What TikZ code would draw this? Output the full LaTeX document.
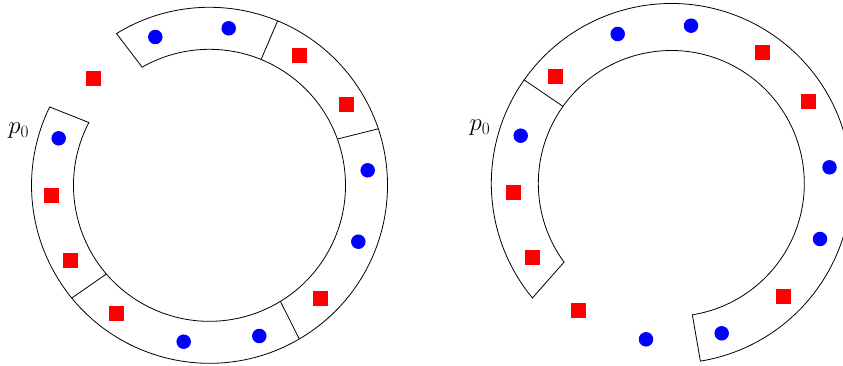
\documentclass[tikz,border=0pt]{standalone}
\usetikzlibrary{calc}
\begin{document}
\begin{tikzpicture}[x=1pt,y=1pt,
  ring/.style={draw=black, line width=0.8pt, line join=miter},
  bluedot/.style={circle, fill=blue, inner sep=0pt, minimum size=14.5pt},
  redsq/.style={rectangle, fill=red, inner sep=0pt, minimum size=15pt},
  lbl/.style={inner sep=0pt, font=\fontsize{24}{28}\selectfont}]
\useasboundingbox (0,0) rectangle (843,365);
\coordinate (C1) at (209.5,179.7);
\coordinate (C2) at (671.3,181.5);
% ---- left ring ----
\draw[ring] ($(C1)+(121.5:178)$) arc[start angle=121.5,end angle=-206.1,radius=178pt]
  -- ($(C1)+(-207.5:136)$) arc[start angle=-207.5,end angle=119.7,radius=136pt] -- cycle;
\draw[ring] ($(C1)+(67.5:178)$) -- ($(C1)+(67.7:136)$);
\draw[ring] ($(C1)+(18.5:178)$) -- ($(C1)+(19.9:136)$);
\draw[ring] ($(C1)+(-59.7:178)$) -- ($(C1)+(-58.6:136)$);
\draw[ring] ($(C1)+(-140.7:178)$) -- ($(C1)+(-139.3:136)$);
% ---- right ring ----
\draw[ring] ($(C2)+(-80.7:180)$) arc[start angle=-80.7,end angle=144.85,radius=180pt]
  -- ($(C2)+(144.55:133)$) arc[start angle=144.55,end angle=-80.9,radius=133pt] -- cycle;
\draw[ring] ($(C2)+(144.85:180)$) arc[start angle=144.85,end angle=219.5,radius=180pt]
  -- ($(C2)+(216.25:133)$) arc[start angle=216.25,end angle=144.55,radius=133pt];
% ---- left items ----
\node[bluedot] (La) at (155.3,328) {};
\node[bluedot] (Lb) at (228.7,336.7) {};
\node[redsq]   (Lc) at (299.3,309.7) {};
\node[redsq]   (Ld) at (346.3,260.7) {};
\node[bluedot] (Le) at (367.7,194.7) {};
\node[bluedot] (Lf) at (358.3,123.3) {};
\node[redsq]   (Lg) at (320.3,66.7) {};
\node[bluedot] (Lh) at (259.3,29) {};
\node[bluedot] (Li) at (183.7,23.3) {};
\node[redsq]   (Lj) at (116.3,51.7) {};
\node[redsq]   (Lk) at (70.3,104.7) {};
\node[redsq]   (Ll) at (51.3,170) {};
\node[bluedot] (Lm) at (58.7,226.7) {};
\node[redsq]   (Ln) at (93.3,286.7) {};
\node[lbl] (Lp) at (18.7,234) {$p_0$};
% ---- right items ----
\node[bluedot] (Ra) at (617.7,331) {};
\node[bluedot] (Rb) at (691,339.3) {};
\node[redsq]   (Rc) at (762.3,312.7) {};
\node[redsq]   (Rd) at (808.3,263.7) {};
\node[bluedot] (Re) at (829.5,197.7) {};
\node[bluedot] (Rf) at (820,126) {};
\node[redsq]   (Rg) at (783.3,68.7) {};
\node[bluedot] (Rh) at (721.7,31.7) {};
\node[bluedot] (Ri) at (646,25.7) {};
\node[redsq]   (Rj) at (578.3,54.7) {};
\node[redsq]   (Rk) at (532.3,107.7) {};
\node[redsq]   (Rl) at (513.3,172.7) {};
\node[bluedot] (Rm) at (520.7,229.3) {};
\node[redsq]   (Rn) at (555.3,288.7) {};
\node[lbl] (Rp) at (480,237.5) {$p_0$};
\end{tikzpicture}
\end{document}
